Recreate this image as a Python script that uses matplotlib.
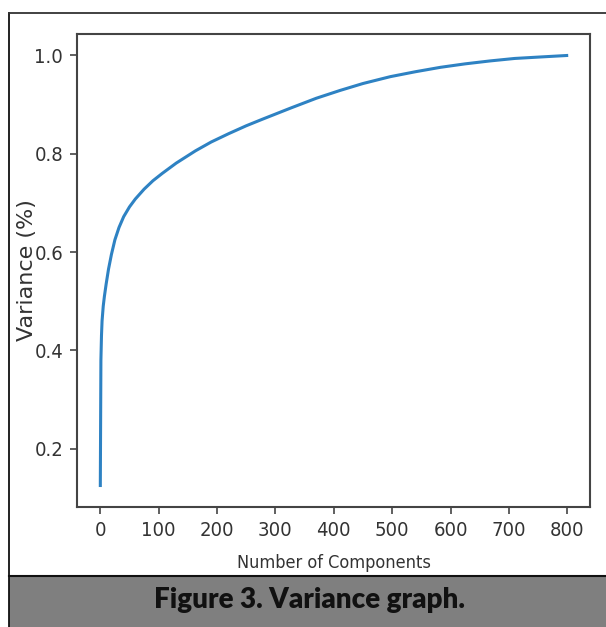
import matplotlib
matplotlib.use('Agg')
import matplotlib.pyplot as plt
from matplotlib.patches import Rectangle
from matplotlib.lines import Line2D

# cumulative explained variance
components = [0, 1, 2, 3, 5, 7, 10, 14, 19, 25, 32, 40, 50, 60, 75, 90, 106, 130, 163, 190,
              220, 250, 277, 326, 370, 411, 450, 497, 540, 583, 625, 668, 710, 754, 799]
variance = [0.125, 0.38, 0.43, 0.46, 0.49, 0.51, 0.535, 0.565, 0.595, 0.625, 0.65, 0.672,
            0.692, 0.708, 0.728, 0.745, 0.760, 0.781, 0.806, 0.824, 0.841, 0.857, 0.870,
            0.893, 0.913, 0.929, 0.943, 0.957, 0.967, 0.976, 0.983, 0.989, 0.994, 0.997, 1.0]

xticks = [0, 100, 200, 300, 400, 500, 600, 700, 800]
yticks = [0.2, 0.4, 0.6, 0.8, 1.0]
caption = 'Figure 3. Variance graph.'

W, H = 606, 627

fig = plt.figure(figsize=(W / 100, H / 100), dpi=100)
ax = fig.add_axes([77 / W, 1 - 507 / H, (590 - 77) / W, (507 - 34) / H])

ax.plot(components, variance, color='#2e82c3', lw=2.2)
ax.set_xticks(xticks)
ax.set_yticks(yticks)
ax.set_yticklabels([f'{v:.1f}' for v in yticks])
for lab in ax.get_xticklabels() + ax.get_yticklabels():
    lab.set_fontstretch('condensed')
    lab.set_fontsize(14.5)
    lab.set_color('#333333')
ax.tick_params(length=5, width=1.2, color='#444444', pad=5)
for s in ax.spines.values():
    s.set_color('#444444')
    s.set_linewidth(1.5)

ax.set_xlabel('Number of Components', fontstretch='condensed', fontsize=13, color='#333333')
ax.set_ylabel('Variance (%)', fontsize=16, color='#333333')
ax.xaxis.set_label_coords(0.5, -0.1)
ax.yaxis.set_label_coords(-0.078, 0.5)

# outer frame and caption bar
fig.add_artist(Rectangle((9 / W, 0), 1, 51 / H, transform=fig.transFigure,
                         facecolor='#7f7f7f', edgecolor='none'))
fig.add_artist(Line2D([9 / W, 1], [51 / H, 51 / H], transform=fig.transFigure,
                      color='#111111', lw=1.5))
fig.add_artist(Line2D([8.5 / W, 8.5 / W], [0, 1 - 13 / H], transform=fig.transFigure,
                      color='#111111', lw=1.3))
fig.add_artist(Line2D([8.5 / W, 1], [1 - 13 / H, 1 - 13 / H], transform=fig.transFigure,
                      color='#333333', lw=1.3))
fig.text(310 / W, 1 - 600 / H, caption, family=['Lato', 'DejaVu Sans'], weight='heavy',
         fontsize=20, color='#111111', ha='center', va='center')

fig.savefig('out.png', dpi=100)
